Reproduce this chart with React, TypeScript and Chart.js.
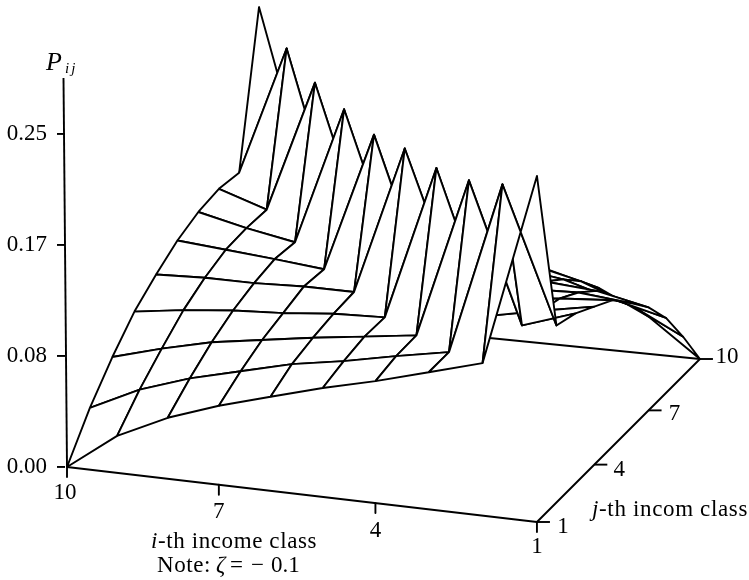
import React, { useEffect, useRef } from "react";
import { Chart, registerables } from "chart.js";

Chart.register(...registerables);

// P_ij. Rows: i = 10 ... 1. Columns: j = 1 ... 10.
const classI10 = [0, 0.0308, 0.0556, 0.0766, 0.0916, 0.1044, 0.1134, 0.1186, 0.1186, 0.2312];
const classI9 = [0.0278, 0.0488, 0.0661, 0.0818, 0.0931, 0.1014, 0.1051, 0.1066, 0.2155, 0.1074];
const classI8 = [0.0458, 0.0616, 0.0751, 0.0856, 0.0931, 0.0983, 0.0983, 0.2057, 0.0976, 0.0976];
const classI7 = [0.0593, 0.0713, 0.0811, 0.0878, 0.0946, 0.0946, 0.202, 0.0976, 0.0961, 0.0916];
const classI6 = [0.0706, 0.0811, 0.0871, 0.0916, 0.0946, 0.1997, 0.0976, 0.0923, 0.0878, 0.0818];
const classI5 = [0.0818, 0.0878, 0.0923, 0.0931, 0.2065, 0.0953, 0.0931, 0.0878, 0.0811, 0.0706];
const classI4 = [0.0916, 0.0961, 0.0976, 0.2095, 0.1051, 0.0976, 0.0901, 0.0826, 0.0721, 0.0556];
const classI3 = [0.1029, 0.1036, 0.2185, 0.1029, 0.1021, 0.0961, 0.0886, 0.0773, 0.0631, 0.0458];
const classI2 = [0.1145, 0.2342, 0.1141, 0.1111, 0.1066, 0.0976, 0.0856, 0.0661, 0.0488, 0.0278];
const classI1 = [0.2598, 0.1329, 0.1276, 0.1186, 0.1096, 0.0938, 0.0773, 0.0563, 0.0293, 0];
const surface = [classI10, classI9, classI8, classI7, classI6, classI5, classI4, classI3, classI2, classI1];

const pTicks = [0, 1 / 12, 2 / 12, 3 / 12];
const iTicks = [10, 7, 4, 1];
const jTicks = [1, 4, 7, 10];
const pAxisTop = 0.292;

const W = 749;
const H = 580;
const LEFT = 65;
const PX_PER_P = 1332;
const ORIGIN_Y = 467;
const INK = "#000";
const SERIF = '"Liberation Serif"';
const STROKE = 1.9;

// floor plane, seen in perspective: a = 10 - i, b = j - 1
function floor(i: number, j: number) {
  const a = 10 - i;
  const b = j - 1;
  const w = 1 - 0.00502 * a + 0.00917 * b;
  return { x: (67 + 49.52 * a + 23.71 * b) / w, y: (467 + 3.49 * a - 14 * b) / w };
}
// chart coordinates: x is the plane's horizontal, y is P above the origin's level
function project(i: number, j: number, p: number) {
  const f = floor(i, j);
  return { x: f.x, y: (ORIGIN_Y - f.y) / PX_PER_P + p };
}
const node = (i: number, j: number) => project(i, j, surface[10 - i][j - 1]);

function lineSet(data: { x: number; y: number }[], polygon = false) {
  return {
    data,
    showLine: true,
    pointRadius: 0,
    borderColor: INK,
    borderWidth: STROKE,
    borderJoinStyle: "round" as const,
    tension: 0,
    clip: false as const,
    polygon,
  };
}

function buildDatasets() {
  const out: any[] = [];
  // first dataset is painted last: nearest patches first
  for (let j = 1; j <= 9; j++) {
    for (let i = 2; i <= 10; i++) {
      out.push(lineSet([node(i, j), node(i - 1, j), node(i - 1, j + 1), node(i, j + 1), node(i, j)], true));
    }
  }
  // floor edges and axes lie beneath the surface
  out.push(lineSet([project(10, 1, 0), project(1, 1, 0), project(1, 10, 0)]));
  out.push(lineSet([project(10, 10, 0), project(1, 10, 0)]));
  out.push(lineSet([{ x: 67, y: 0 }, { x: 63.5, y: pAxisTop }]));
  for (const t of iTicks) {
    const p = project(t, 1, 0);
    out.push(lineSet([p, { x: p.x, y: p.y - 10 / PX_PER_P }]));
  }
  for (const t of jTicks) {
    const p = project(1, t, 0);
    out.push(lineSet([p, { x: p.x + 13, y: p.y }]));
  }
  return out;
}

const polygonFill = {
  id: "polygonFill",
  beforeDatasetDraw(chart: any, args: any) {
    if (!chart.data.datasets[args.index].polygon) return;
    const pts = args.meta.data;
    const ctx = chart.ctx;
    ctx.save();
    ctx.beginPath();
    pts.forEach((pt: any, k: number) => (k ? ctx.lineTo(pt.x, pt.y) : ctx.moveTo(pt.x, pt.y)));
    ctx.closePath();
    ctx.fillStyle = "#fff";
    ctx.fill();
    ctx.restore();
  },
};

type Run = { t: string; font: string; spacing?: number };
function drawRuns(ctx: CanvasRenderingContext2D, x: number, y: number, runs: Run[]) {
  let cx = x;
  for (const r of runs) {
    ctx.font = r.font;
    (ctx as any).letterSpacing = `${r.spacing ?? 0}px`;
    ctx.fillText(r.t, cx, y);
    cx += ctx.measureText(r.t).width;
  }
  (ctx as any).letterSpacing = "0px";
}

const labels = {
  id: "labels",
  afterDraw(chart: any) {
    const { ctx } = chart;
    const sx = chart.scales.x;
    const sy = chart.scales.y;
    const px = (v: number) => sx.getPixelForValue(v);
    const py = (v: number) => sy.getPixelForValue(v);
    const reg = `23px ${SERIF}`;
    const ita = `italic 23px ${SERIF}`;
    ctx.save();
    ctx.fillStyle = INK;
    ctx.textBaseline = "alphabetic";
    ctx.textAlign = "center";
    ctx.font = reg;
    const iLabelDrop = [32, 33, 34, 31];
    iTicks.forEach((t, k) => {
      const p = project(t, 1, 0);
      ctx.fillText(String(t), px(p.x) - (k === 0 ? 2 : 0), py(p.y) + iLabelDrop[k]);
    });
    const jLabelDx = [26, 25, 26, 27];
    const jLabelDy = [11, 11, 10, 4];
    jTicks.forEach((t, k) => {
      const p = project(1, t, 0);
      ctx.fillText(String(t), px(p.x) + jLabelDx[k], py(p.y) + jLabelDy[k]);
    });
    ctx.textAlign = "left";
    drawRuns(ctx, 46, 70, [{ t: "P", font: `italic 26px ${SERIF}` }]);
    drawRuns(ctx, 65, 73, [{ t: "ij", font: `italic 15px ${SERIF}`, spacing: 2 }]);
    drawRuns(ctx, 151, 548, [
      { t: "i", font: ita, spacing: 0.6 },
      { t: "-th income class", font: reg, spacing: 0.6 },
    ]);
    drawRuns(ctx, 157, 572, [{ t: "Note:", font: reg, spacing: 0.6 }]);
    drawRuns(ctx, 216, 572, [{ t: "ζ", font: ita }]);
    drawRuns(ctx, 230, 572, [{ t: "=", font: reg }]);
    drawRuns(ctx, 251, 572, [{ t: "−", font: reg }]);
    drawRuns(ctx, 271, 572, [{ t: "0.1", font: reg }]);
    drawRuns(ctx, 592, 516, [
      { t: "j", font: ita, spacing: 0.65 },
      { t: "-th incom class", font: reg, spacing: 0.65 },
    ]);
    ctx.restore();
  },
};

export default function App() {
  const ref = useRef<HTMLCanvasElement>(null);
  useEffect(() => {
    const chart = new Chart(ref.current as HTMLCanvasElement, {
      type: "scatter",
      data: { datasets: buildDatasets() },
      plugins: [polygonFill, labels],
      options: {
        animation: false,
        responsive: false,
        devicePixelRatio: 1,
        layout: { padding: 0 },
        plugins: { legend: { display: false }, tooltip: { enabled: false } },
        scales: {
          x: { type: "linear", min: LEFT, max: W, display: false },
          y: {
            type: "linear",
            min: (ORIGIN_Y - H) / PX_PER_P,
            max: ORIGIN_Y / PX_PER_P,
            border: { display: false },
            grid: { drawOnChartArea: false, drawTicks: true, tickLength: 8, color: INK, lineWidth: STROKE },
            ticks: {
              color: INK,
              padding: 10,
              autoSkip: false,
              font: { family: SERIF, size: 23 },
              callback: (v: any) => Number(v).toFixed(2),
            },
            afterBuildTicks: (s: any) => {
              s.ticks = pTicks.map((value) => ({ value }));
            },
            afterFit: (s: any) => {
              s.width = LEFT;
              s.paddingTop = 0;
              s.paddingBottom = 0;
            },
          },
        },
      } as any,
    });
    return () => chart.destroy();
  }, []);
  return (
    <canvas
      ref={ref}
      width={W}
      height={H}
      style={{ position: "absolute", left: 0, top: 0, width: W, height: H, background: "#fff" }}
    />
  );
}
